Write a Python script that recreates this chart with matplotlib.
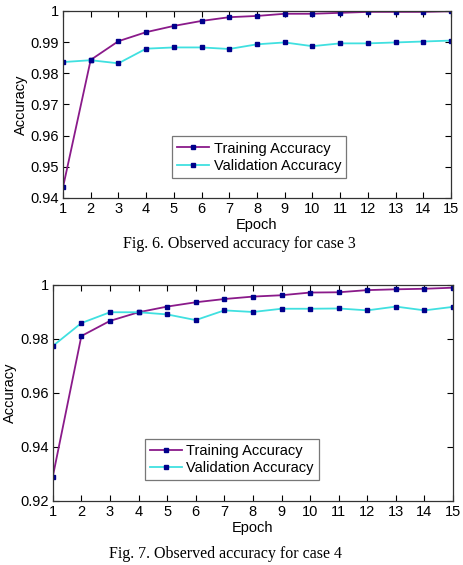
import matplotlib
matplotlib.use('Agg')
import matplotlib.pyplot as plt

epochs = list(range(1, 16))

# case 3 (Fig. 6)
train_case3 = [0.9434, 0.9843, 0.9903, 0.9932, 0.9952, 0.9968, 0.9980, 0.9984,
               0.9991, 0.9991, 0.9994, 0.9997, 0.9997, 0.9997, 0.9999]
val_case3 = [0.9836, 0.9842, 0.9832, 0.9879, 0.9883, 0.9883, 0.9878, 0.9893,
             0.9899, 0.9887, 0.9896, 0.9896, 0.9899, 0.9902, 0.9905]

# case 4 (Fig. 7)
train_case4 = [0.9290, 0.9811, 0.9867, 0.9899, 0.9920, 0.9936, 0.9948, 0.9957,
               0.9962, 0.9972, 0.9973, 0.9981, 0.9984, 0.9986, 0.9990]
val_case4 = [0.9774, 0.9859, 0.9899, 0.9899, 0.9891, 0.9870, 0.9906, 0.9900,
             0.9912, 0.9912, 0.9913, 0.9906, 0.9920, 0.9906, 0.9919]

yticks_case3 = [0.94, 0.95, 0.96, 0.97, 0.98, 0.99, 1.0]
ylabels_case3 = ['0.94', '0.95', '0.96', '0.97', '0.98', '0.99', '1']
yticks_case4 = [0.92, 0.94, 0.96, 0.98, 1.0]
ylabels_case4 = ['0.92', '0.94', '0.96', '0.98', '1']

captions = ['Fig. 6. Observed accuracy for case 3',
            'Fig. 7. Observed accuracy for case 4']

plt.rcParams['font.family'] = ['Liberation Sans', 'DejaVu Sans']

fig = plt.figure(figsize=(4.63, 5.65), dpi=100)
ax1 = fig.add_axes([0.136, 0.6496, 0.838, 0.331])
ax2 = fig.add_axes([0.114, 0.1133, 0.8646, 0.3823])

TRAIN_COLOR = '#8a1a8a'
VAL_COLOR = '#40e0e0'
MARKER_COLOR = '#00008b'


def draw(ax, train, val, yticks, ylabels, legend_anchor):
    ax.plot(epochs, train, color=TRAIN_COLOR, linewidth=1.3, marker='s',
            markersize=3.0, markerfacecolor=MARKER_COLOR,
            markeredgecolor=MARKER_COLOR, label='Training Accuracy')
    ax.plot(epochs, val, color=VAL_COLOR, linewidth=1.3, marker='s',
            markersize=3.0, markerfacecolor=MARKER_COLOR,
            markeredgecolor=MARKER_COLOR, label='Validation Accuracy')
    ax.set_xlim(1, 15)
    ax.set_ylim(yticks[0], yticks[-1])
    ax.set_xticks(epochs)
    ax.set_yticks(yticks)
    ax.set_yticklabels(ylabels)
    ax.tick_params(direction='in', top=True, right=True, length=4,
                   labelsize=10.5, pad=3, width=0.8)
    for sp in ax.spines.values():
        sp.set_color('#333333')
        sp.set_linewidth(0.9)
    ax.set_xlabel('Epoch', fontsize=10.5, labelpad=1)
    ax.set_ylabel('Accuracy', fontsize=10.5, labelpad=2)
    leg = ax.legend(loc='lower left', bbox_to_anchor=legend_anchor,
                    fontsize=10.5, fancybox=False, handlelength=2.2,
                    borderpad=0.35, labelspacing=0.25, handletextpad=0.3,
                    borderaxespad=0)
    leg.get_frame().set_edgecolor('#555555')
    leg.get_frame().set_linewidth(0.9)


draw(ax1, train_case3, val_case3, yticks_case3, ylabels_case3, (0.281, 0.105))
draw(ax2, train_case4, val_case4, yticks_case4, ylabels_case4, (0.23, 0.095))

fig.text(239.5 / 463, 1 - 244 / 565, captions[0], ha='center', va='center',
         fontsize=11.5, family='Liberation Serif')
fig.text(225.5 / 463, 1 - 554 / 565, captions[1], ha='center', va='center',
         fontsize=11.5, family='Liberation Serif')

fig.savefig('out.png', dpi=100)
